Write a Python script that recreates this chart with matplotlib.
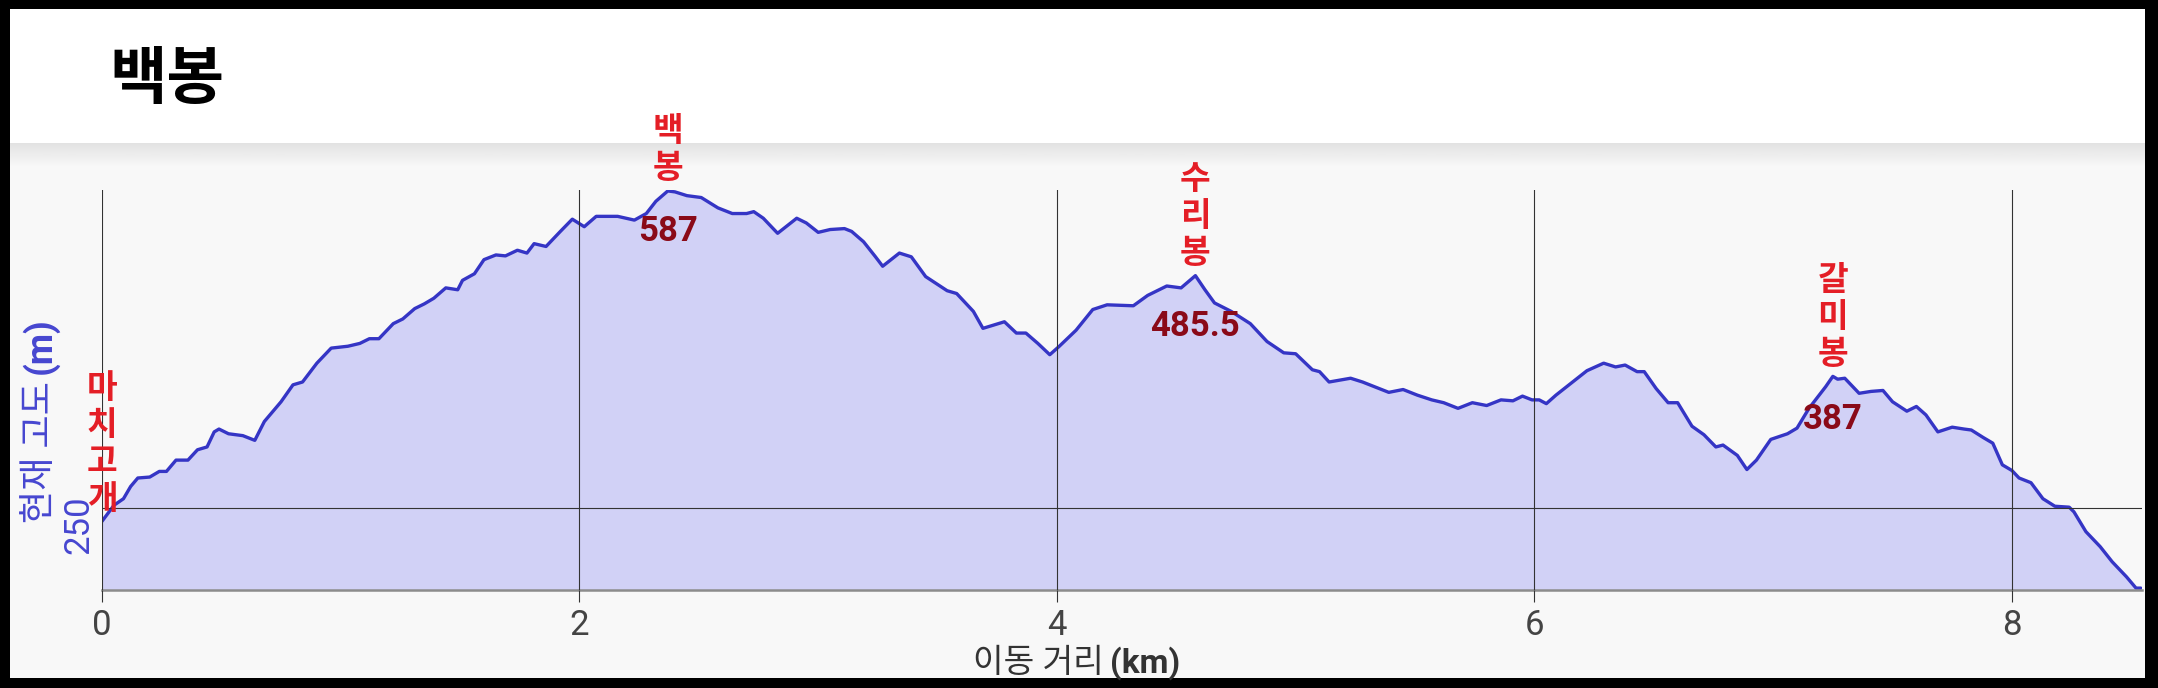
import matplotlib
matplotlib.use("Agg")
import matplotlib.pyplot as plt
from matplotlib.patches import Rectangle
import numpy as np

plt.rcParams['font.family'] = ['Roboto', 'Noto Sans CJK KR', 'DejaVu Sans']

# elevation profile
distance_km = [0.00, 0.05, 0.09, 0.12, 0.15, 0.20, 0.24, 0.27, 0.31, 0.36,
               0.40, 0.44, 0.47, 0.49, 0.53, 0.59, 0.64, 0.68, 0.75, 0.80,
               0.84, 0.90, 0.96, 1.03, 1.08, 1.12, 1.16, 1.22, 1.26, 1.31,
               1.35, 1.39, 1.44, 1.49, 1.51, 1.56, 1.60, 1.65, 1.69, 1.74,
               1.78, 1.81, 1.86, 1.92, 1.97, 2.02, 2.07, 2.16, 2.23, 2.28,
               2.32, 2.37, 2.40, 2.45, 2.51, 2.58, 2.64, 2.70, 2.73, 2.77,
               2.83, 2.85, 2.91, 2.95, 3.00, 3.05, 3.11, 3.14, 3.19, 3.24,
               3.27, 3.34, 3.39, 3.45, 3.54, 3.58, 3.65, 3.69, 3.78, 3.83,
               3.87, 3.92, 3.97, 4.01, 4.08, 4.15, 4.21, 4.32, 4.38, 4.46,
               4.52, 4.58, 4.62, 4.66, 4.73, 4.81, 4.88, 4.95, 5.00, 5.07,
               5.10, 5.14, 5.23, 5.28, 5.34, 5.39, 5.45, 5.51, 5.57, 5.62,
               5.68, 5.74, 5.80, 5.86, 5.91, 5.95, 5.99, 6.02, 6.05, 6.09,
               6.16, 6.22, 6.29, 6.34, 6.38, 6.43, 6.46, 6.51, 6.56, 6.60,
               6.66, 6.71, 6.76, 6.79, 6.85, 6.89, 6.93, 6.99, 7.06, 7.10,
               7.15, 7.22, 7.25, 7.27, 7.30, 7.36, 7.41, 7.46, 7.50, 7.56,
               7.60, 7.64, 7.69, 7.75, 7.80, 7.83, 7.88, 7.92, 7.96, 8.00,
               8.03, 8.08, 8.13, 8.18, 8.24, 8.26, 8.31, 8.37, 8.42, 8.48,
               8.52, 8.54]
elevation_m = [236, 253, 260, 273, 282, 283, 289, 289, 301, 301,
               312, 315, 331, 334, 329, 327, 322, 342, 363, 381,
               384, 404, 420, 422, 425, 430, 430, 446, 451, 462,
               467, 473, 484, 482, 492, 499, 514, 519, 518, 524,
               521, 531, 528, 544, 557, 549, 560, 560, 556, 563,
               576, 587, 586, 582, 580, 569, 563, 563, 565, 558,
               542, 546, 558, 553, 543, 546, 547, 544, 533, 517,
               507, 521, 517, 496, 481, 478, 459, 441, 448, 436,
               436, 425, 413, 422, 439, 461, 466, 465, 476, 486,
               484, 497, 482, 468, 459, 446, 427, 415, 414, 397,
               395, 384, 388, 384, 378, 373, 376, 370, 365, 362,
               356, 362, 359, 365, 364, 369, 365, 365, 361, 370,
               384, 396, 404, 400, 402, 395, 395, 377, 362, 362,
               337, 328, 315, 317, 306, 291, 301, 323, 329, 335,
               356, 379, 390, 387, 388, 372, 374, 375, 363, 353,
               358, 349, 331, 336, 334, 333, 325, 319, 296, 290,
               282, 277, 260, 252, 251, 246, 225, 209, 193, 177,
               165, 165]

peak_names = ['마치고개', '백봉', '수리봉', '갈미봉']
peak_km = [0.0, 2.37, 4.58, 7.25]
peak_heights = ['', '587', '485.5', '387']

x_ticks = [0, 2, 4, 6, 8]
y_ticks = [250]

W, H = 2158, 688


def box(x0, y0, x1, y1):
    # pixel box (top-left origin) -> figure fraction rect
    return [x0 / W, 1 - y1 / H, (x1 - x0) / W, (y1 - y0) / H]


fig = plt.figure(figsize=(W / 100, H / 100), dpi=100, facecolor='black')

# light grey body and white header inside the black frame
b = box(10, 9, 2145, 678)
fig.add_artist(Rectangle((b[0], b[1]), b[2], b[3], transform=fig.transFigure,
                         facecolor='#f8f8f8', edgecolor='none', zorder=0))
h = box(10, 9, 2145, 143)
fig.add_artist(Rectangle((h[0], h[1]), h[2], h[3], transform=fig.transFigure,
                         facecolor='white', edgecolor='none', zorder=0))

# soft shadow under the header
sh = fig.add_axes(box(10, 143, 2145, 166))
grad = np.linspace(0, 1, 50).reshape(-1, 1)
sh.imshow(grad, aspect='auto', cmap=matplotlib.colors.LinearSegmentedColormap.from_list(
    'sh', ['#e2e2e2', '#f8f8f8']), extent=[0, 1, 0, 1], origin='upper')
sh.axis('off')

fig.text(109 / W, 1 - 79 / H, '백봉', fontsize=45, fontweight='bold', color='black',
         ha='left', va='center', family=['Noto Sans CJK KR'])

ax = fig.add_axes(box(102, 190, 2142, 590))
ax.set_facecolor('none')

ax.fill_between(distance_km, elevation_m, 0, color='#d1d1f6', linewidth=0, zorder=1)
ax.plot(distance_km, elevation_m, color='#3535c5', linewidth=2.4, zorder=2,
        solid_joinstyle='round', solid_capstyle='round')

ax.set_xlim(0, 8.545)
ax.set_ylim(163, 588)
ax.set_xticks(x_ticks)
ax.set_xticklabels([str(t) for t in x_ticks])
ax.set_yticks(y_ticks)
ax.set_yticklabels([str(t) for t in y_ticks])

ax.grid(True, color='#333333', linewidth=0.8)
ax.set_axisbelow(False)
for s in ['left', 'right', 'top']:
    ax.spines[s].set_visible(False)
ax.spines['bottom'].set_color('#8c8c8c')
ax.spines['bottom'].set_linewidth(1.8)

ax.tick_params(axis='x', length=8.6, width=0.8, color='#333333', pad=5,
               labelsize=25, labelcolor='#444444')
ax.tick_params(axis='y', length=0, pad=5, labelsize=25, labelcolor='#4646d0',
               labelrotation=90)

# axis titles
blue = '#4646d0'
yl = fig.text(40 / W, 1 - 452 / H, '현재 고도', rotation=90, ha='center', va='center',
              fontsize=26, color=blue)
ax.annotate('(m)', xy=(0.5, 1), xycoords=yl, xytext=(0, 5), textcoords='offset points',
            rotation=90, ha='center', va='bottom', fontsize=26, fontweight='bold', color=blue)
xl = fig.text(1038 / W, 1 - 663 / H, '이동 거리', ha='center', va='center',
              fontsize=24, color='#333333')
ax.annotate('(km)', xy=(1, 0.5), xycoords=xl, xytext=(5, 0), textcoords='offset points',
            ha='left', va='center', fontsize=24, fontweight='bold', color='#333333')

# peak labels: name stacked above the profile, official height below
km_arr = np.array(distance_km)
for name, pk, hv in zip(peak_names, peak_km, peak_heights):
    i = int(np.argmin(np.abs(km_arr - pk)))
    ax.annotate('\n'.join(name), xy=(distance_km[i], elevation_m[i]), xytext=(0, 4),
                textcoords='offset points', ha='center', va='bottom', fontsize=24,
                fontweight='bold', color='#e41e26', linespacing=1.2,
                annotation_clip=False, zorder=5)
    if hv:
        ax.annotate(hv, xy=(distance_km[i], float(hv)), xytext=(0, -29),
                    textcoords='offset points', ha='center', va='center', fontsize=25,
                    fontweight='bold', color='#8a0a18', annotation_clip=False, zorder=5)

fig.savefig('out.png', dpi=100, facecolor='black')
